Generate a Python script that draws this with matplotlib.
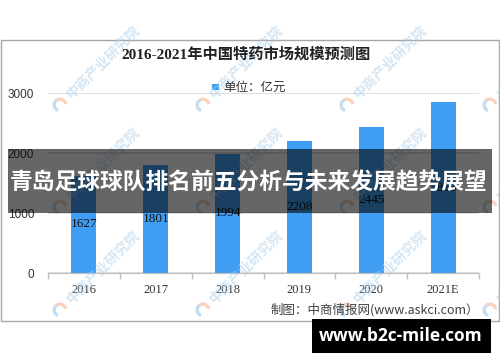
import matplotlib
matplotlib.use("Agg")
import matplotlib.pyplot as plt
from matplotlib.patches import Rectangle, Wedge

years = ["2016", "2017", "2018", "2019", "2020", "2021E"]
values = [1627, 1801, 1994, 2208, 2445, 2855]
yticks = [0, 1000, 2000, 3000]
title = "2016-2021年中国特药市场规模预测图"
legend_label = "单位：亿元"
source = "制图：中商情报网(www.askci.com）"
banner = "青岛足球球队排名前五分析与未来发展趋势展望"
site = "www.b2c-mile.com"
watermark = "中商产业研究院"

W, H = 500, 362
fig = plt.figure(figsize=(W / 100, H / 100), dpi=100)
fig.patch.set_facecolor("white")

serif = ["Liberation Serif", "Noto Sans CJK SC"]
sans = ["Liberation Sans", "Noto Sans CJK SC"]
cjk = ["Noto Sans CJK SC", "DejaVu Sans"]

# main axes
ax = fig.add_axes([48 / W, 1 - 273.3 / H, (479 - 48) / W, (273.3 - 93.3) / H])
ax.set_zorder(1)
x = list(range(len(years)))
ax.bar(x, values, width=0.35, color="#3f9ef3", zorder=2)
ax.set_xlim(-0.5, len(years) - 0.5)
ax.set_ylim(0, 3000)
ax.set_yticks(yticks)
ax.set_yticklabels([str(v) for v in yticks], fontfamily=sans, fontsize=8.5, color="#333333")
ax.set_xticks(x)
ax.set_xticklabels(years, fontfamily=serif, fontsize=9, color="#333333")
ax.set_xticks([i - 0.5 for i in range(len(years) + 1)], minor=True)
ax.tick_params(axis="x", which="major", length=0, pad=8)
ax.tick_params(axis="x", which="minor", length=4, color="#bfbfbf", width=1)
ax.tick_params(axis="y", length=0, pad=10)
for s in ["top", "right", "left"]:
    ax.spines[s].set_visible(False)
ax.spines["bottom"].set_color("#bfbfbf")
ax.grid(axis="y", color="#d9d9d9", linewidth=1.2, zorder=0)
ax.set_axisbelow(True)
ax.patch.set_alpha(0)
for xi, v in zip(x, values):
    ax.text(xi, v / 2, str(v), ha="center", va="center", fontfamily=serif,
            fontsize=9.5, color="#111111", zorder=3)

# overlay axes in pixel coordinates
ov = fig.add_axes([0, 0, 1, 1])
ov.set_zorder(2)
ov.set_xlim(0, W)
ov.set_ylim(H, 0)
ov.axis("off")
ov.patch.set_alpha(0)

ov.add_patch(Rectangle((1, 39.5), 498, 281.5, fill=False, edgecolor="#a6a6a6", linewidth=1))

ov.text(246, 54, title, ha="center", va="center", fontfamily=serif,
        fontsize=11, fontweight="bold", color="#222222")
ov.add_patch(Rectangle((212, 83.5), 6.5, 6.5, facecolor="#3f9ef3", edgecolor="none"))
ov.text(223, 87, legend_label, ha="left", va="center", fontfamily=cjk,
        fontsize=9, color="#333333")
ov.text(479, 310, source, ha="right", va="center", fontfamily=cjk,
        fontsize=9, color="#404040")

# watermarks
for wy in [105, 207, 310]:
    for wx in [-83, 60, 203, 347, 490]:
        ov.add_patch(Wedge((wx, wy), 7.5, 110, 230, width=3.4,
                           facecolor="#9cc8ec", edgecolor="none", alpha=0.6, zorder=1))
        ov.add_patch(Wedge((wx, wy), 7.5, 230, 350, width=3.4,
                           facecolor="#f2b59c", edgecolor="none", alpha=0.6, zorder=1))
        ov.text(wx + 9, wy - 9, watermark, rotation=45, rotation_mode="anchor",
                ha="left", va="center", fontfamily=cjk, fontsize=10, fontweight="bold",
                color="#a8cdea", alpha=0.5, zorder=1)

# banner
ov.add_patch(Rectangle((8, 149), 484, 63.5, facecolor="black", alpha=0.6,
                       edgecolor="none", zorder=5))
ov.text(249, 182, banner, ha="center", va="center", fontfamily=cjk,
        fontsize=16.4, fontweight="bold", color="white", zorder=6)

# site box
ov.add_patch(Rectangle((312, 319.3), 178.7, 33.4, facecolor="black",
                       edgecolor="none", zorder=5))
ov.text(401, 336, site, ha="center", va="center", fontfamily=["Open Sans", "DejaVu Sans"],
        fontsize=12.5, fontweight="bold", color="white", zorder=6)

fig.savefig("out.png", dpi=100)
